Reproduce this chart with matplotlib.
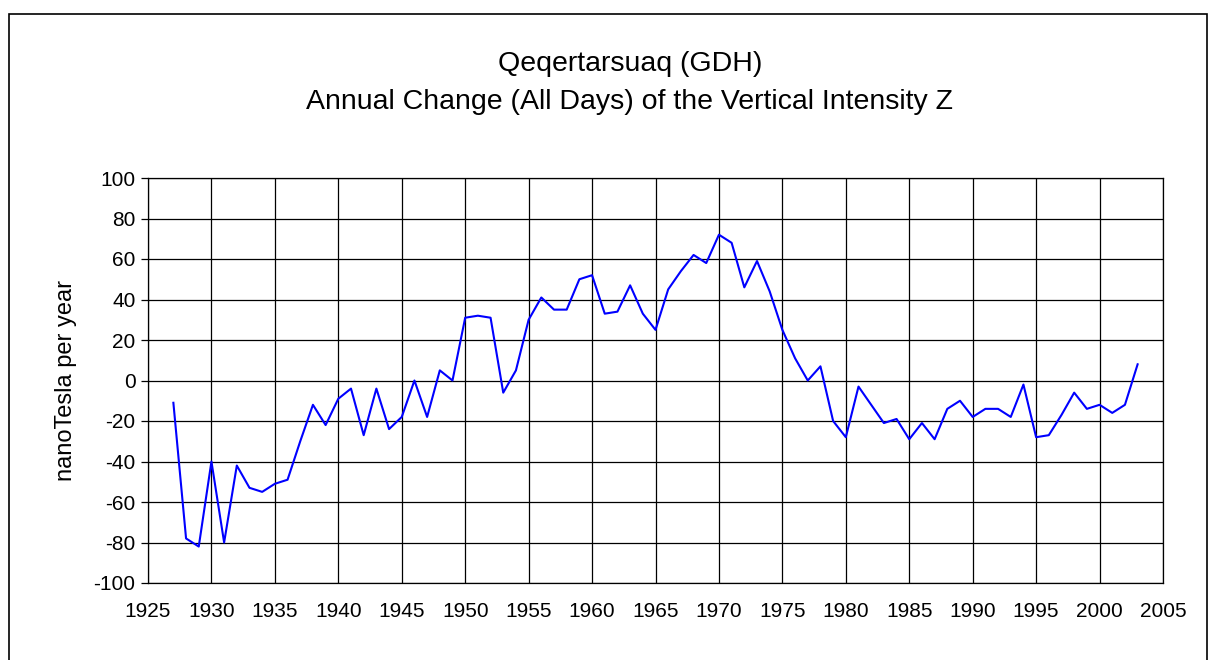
import matplotlib
matplotlib.use('Agg')
from matplotlib import pyplot as plt
from matplotlib.patches import Rectangle

plt.rcParams['font.family'] = ['Liberation Sans', 'DejaVu Sans']
plt.rcParams['axes.unicode_minus'] = False

years = list(range(1927, 2004))
change = [-11, -78, -82, -40, -80, -42, -53, -55, -51, -49,
          -30, -12, -22, -9, -4, -27, -4, -24, -18, 0,
          -18, 5, 0, 31, 32, 31, -6, 5, 30, 41,
          35, 35, 50, 52, 33, 34, 47, 33, 25, 45,
          54, 62, 58, 72, 68, 46, 59, 44, 25, 11,
          0, 7, -20, -28, -3, -12, -21, -19, -29, -21,
          -29, -14, -10, -18, -14, -14, -18, -2, -28, -27,
          -17, -6, -14, -12, -16, -12, 8]

x_ticks = list(range(1925, 2006, 5))
y_ticks = list(range(-100, 101, 20))

fig = plt.figure(figsize=(12.11, 6.6), dpi=100)

# outer frame like the excel chart area
fig.patches.append(Rectangle((9/1211, -0.05), 1198/1211, 1 - 14/660 + 0.05,
                             transform=fig.transFigure, fill=False,
                             edgecolor='black', linewidth=1.2))

ax = fig.add_axes([148/1211, 1 - 583/660, 1015/1211, 405/660])
ax.plot(years, change, color='#0000ff', linewidth=1.5)

ax.set_xlim(1925, 2005)
ax.set_ylim(-100, 100)
ax.set_xticks(x_ticks)
ax.set_yticks(y_ticks)
ax.grid(True, color='black', linewidth=0.9)
ax.tick_params(axis='x', length=0, pad=14, labelsize=15)
ax.tick_params(axis='y', length=5, width=0.9, pad=4, labelsize=15)
for s in ax.spines.values():
    s.set_linewidth(0.9)

ax.set_ylabel('nanoTesla per year', fontsize=17, labelpad=12)

fig.text(630/1211, 1 - 64/660, 'Qeqertarsuaq (GDH)', ha='center', va='center', fontsize=20.5)
fig.text(630/1211, 1 - 102/660, 'Annual Change (All Days) of the Vertical Intensity Z',
         ha='center', va='center', fontsize=20.5)

fig.savefig('out.png', dpi=100)
